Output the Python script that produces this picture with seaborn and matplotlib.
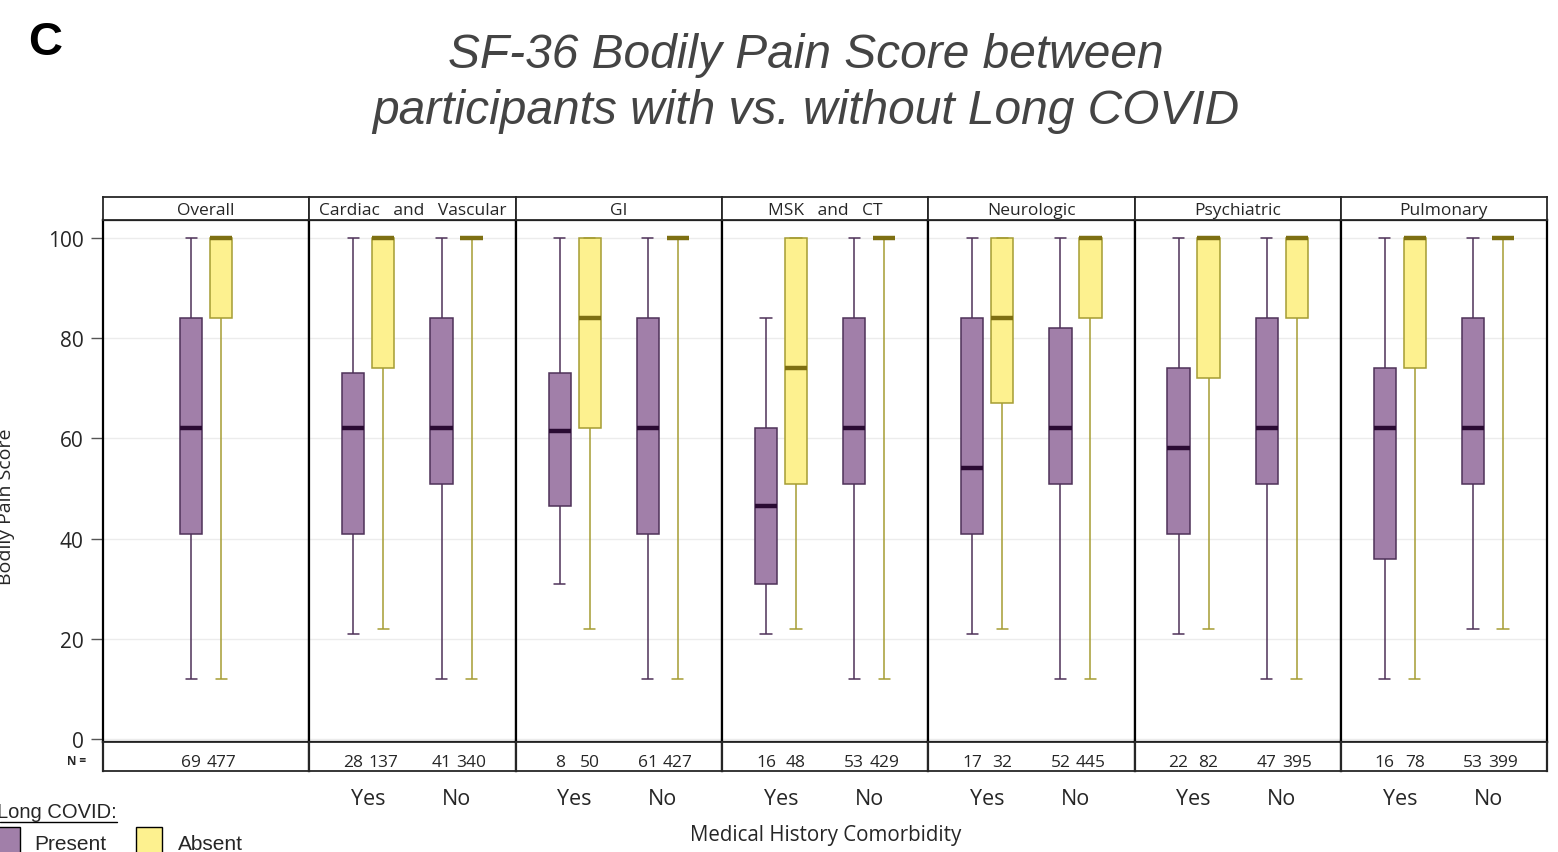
import numpy as np
import pandas as pd
import matplotlib
matplotlib.use("Agg")
import matplotlib.pyplot as plt
from matplotlib.lines import Line2D
from matplotlib.patches import Rectangle
import matplotlib.colors as mcolors
import seaborn as sns

sns.set_style("white")
plt.rcParams["font.family"] = ["Open Sans", "DejaVu Sans"]

# ---------------- data (five-number summaries) ----------------
panels = ["Overall", "Cardiac   and   Vascular", "GI", "MSK   and   CT",
          "Neurologic", "Psychiatric", "Pulmonary"]
comorb_levels = ["Yes", "No"]
lc_levels = ["Present", "Absent"]

# [min, q1, median, q3, max] per panel -> per comorbidity level
present_stats = {
    "Overall": {"": [12, 41, 62, 84, 100]},
    "Cardiac   and   Vascular": {"Yes": [21, 41, 62, 73, 100], "No": [12, 51, 62, 84, 100]},
    "GI": {"Yes": [31, 46.5, 61.5, 73, 100], "No": [12, 41, 62, 84, 100]},
    "MSK   and   CT": {"Yes": [21, 31, 46.5, 62, 84], "No": [12, 51, 62, 84, 100]},
    "Neurologic": {"Yes": [21, 41, 54, 84, 100], "No": [12, 51, 62, 82, 100]},
    "Psychiatric": {"Yes": [21, 41, 58, 74, 100], "No": [12, 51, 62, 84, 100]},
    "Pulmonary": {"Yes": [12, 36, 62, 74, 100], "No": [22, 51, 62, 84, 100]},
}
absent_stats = {
    "Overall": {"": [12, 84, 100, 100, 100]},
    "Cardiac   and   Vascular": {"Yes": [22, 74, 100, 100, 100], "No": [12, 100, 100, 100, 100]},
    "GI": {"Yes": [22, 62, 84, 100, 100], "No": [12, 100, 100, 100, 100]},
    "MSK   and   CT": {"Yes": [22, 51, 74, 100, 100], "No": [12, 100, 100, 100, 100]},
    "Neurologic": {"Yes": [22, 67, 84, 100, 100], "No": [12, 84, 100, 100, 100]},
    "Psychiatric": {"Yes": [22, 72, 100, 100, 100], "No": [12, 84, 100, 100, 100]},
    "Pulmonary": {"Yes": [12, 74, 100, 100, 100], "No": [22, 100, 100, 100, 100]},
}
n_present = {
    "Overall": {"": 69},
    "Cardiac   and   Vascular": {"Yes": 28, "No": 41},
    "GI": {"Yes": 8, "No": 61},
    "MSK   and   CT": {"Yes": 16, "No": 53},
    "Neurologic": {"Yes": 17, "No": 52},
    "Psychiatric": {"Yes": 22, "No": 47},
    "Pulmonary": {"Yes": 16, "No": 53},
}
n_absent = {
    "Overall": {"": 477},
    "Cardiac   and   Vascular": {"Yes": 137, "No": 340},
    "GI": {"Yes": 50, "No": 427},
    "MSK   and   CT": {"Yes": 48, "No": 429},
    "Neurologic": {"Yes": 32, "No": 445},
    "Psychiatric": {"Yes": 82, "No": 395},
    "Pulmonary": {"Yes": 78, "No": 399},
}
y_ticks = [0, 20, 40, 60, 80, 100]

rows = []
for p in panels:
    for lc, src in (("Present", present_stats), ("Absent", absent_stats)):
        for cm, vals in src[p].items():
            for v in vals:
                rows.append({"panel": p, "comorb": cm, "lc": lc, "score": v})
df = pd.DataFrame(rows)

# ---------------- styling ----------------
fills = {"Present": "#a17fa9", "Absent": "#fdf18f"}
edges = {"Present": "#4e3159", "Absent": "#a59d33"}
meds = {"Present": "#2a0b33", "Absent": "#7d6f12"}

W, H = 1558, 853
fig = plt.figure(figsize=(W / 100, H / 100), dpi=100)

def fx(x):
    return x / W

def fy(y):
    return 1 - y / H

left0, pw = 103, 206.3
top_plot, bot_plot = 221, 743
ylim = (-0.6, 103.6)
BOX_W, GAP = 0.68, 0.26
MED_LW = 3.2

for i, p in enumerate(panels):
    L = left0 + i * pw
    ax = fig.add_axes([fx(L), fy(bot_plot), fx(pw), (bot_plot - top_plot) / H])
    sub = df[df["panel"] == p]
    order = [""] if p == "Overall" else comorb_levels
    xlim = (-1.17, 1.17) if p == "Overall" else (-0.67, 1.67)
    sns.boxplot(data=sub, x="comorb", y="score", hue="lc",
                order=order, hue_order=lc_levels, palette=fills, saturation=1,
                whis=(0, 100), width=BOX_W, gap=GAP, linewidth=1.1,
                linecolor="black", legend=False, ax=ax,
                medianprops={"linewidth": MED_LW}, showfliers=False)
    # colour the outlines, whiskers and medians per Long COVID group
    fill_rgb = {k: mcolors.to_rgb(v) for k, v in fills.items()}
    for patch in ax.patches:
        fc = patch.get_facecolor()[:3]
        grp = min(fill_rgb, key=lambda k: sum((a - b) ** 2 for a, b in zip(fc, fill_rgb[k])))
        patch.set_edgecolor(edges[grp])
    for ln in ax.lines:
        xd = np.asarray(ln.get_xdata(), dtype=float)
        if xd.size == 0:
            continue
        xm = xd.mean()
        grp = "Present" if xm - np.round(xm) < 0 else "Absent"
        if ln.get_linewidth() >= MED_LW - 0.1:
            ln.set_color(meds[grp])
        else:
            ln.set_color(edges[grp])
    ax.set_xlim(*xlim)
    ax.set_ylim(*ylim)
    ax.set_xlabel("")
    ax.set_ylabel("")
    ax.set_xticks([])
    ax.set_yticks(y_ticks)
    ax.yaxis.grid(True, color="#ececec", linewidth=1)
    ax.set_axisbelow(True)
    for s in ax.spines.values():
        s.set_color("black")
        s.set_linewidth(1.6)
    if i == 0:
        ax.tick_params(axis="y", length=9, width=1, color="#555555", left=True,
                       labelsize=15, pad=5)
        ax.set_yticklabels([str(t) for t in y_ticks])
    else:
        ax.tick_params(axis="y", left=False, labelleft=False)

    # header strip
    hx = fig.add_axes([fx(L), fy(top_plot), fx(pw), (top_plot - 198) / H])
    hx.set_xticks([]); hx.set_yticks([])
    for s in hx.spines.values():
        s.set_linewidth(1.3)
    hx.text(0.5, 0.45, p, ha="center", va="center", fontsize=12.5,
            transform=hx.transAxes)

    # N row
    nx = fig.add_axes([fx(L), fy(772), fx(pw), (772 - bot_plot) / H])
    nx.set_xlim(*xlim); nx.set_ylim(0, 1)
    nx.set_yticks([])
    for s in nx.spines.values():
        s.set_linewidth(1.3)
    nx.spines["left"].set_linewidth(1.6)
    nx.spines["right"].set_linewidth(1.6)
    off = BOX_W / 4
    for j, cm in enumerate(order):
        nx.text(j - off, 0.32, str(n_present[p][cm]), ha="center", va="center",
                fontsize=12.5)
        nx.text(j + off, 0.32, str(n_absent[p][cm]), ha="center", va="center",
                fontsize=12.5)
    if p == "Overall":
        nx.set_xticks([])
    else:
        nx.set_xticks(range(len(order)))
        nx.set_xticklabels(order, fontsize=15.5)
        nx.tick_params(axis="x", length=0, pad=12)

# N = label
fig.text(fx(86), fy(762), "N =", ha="right", va="center", fontsize=8.5,
         fontweight="bold")

# axis labels
fig.text(fx(826), fy(836), "Medical History Comorbidity", ha="center",
         va="center", fontsize=14.8)
fig.text(fx(6), fy(507), "Bodily Pain Score", ha="center", va="center",
         rotation=90, fontsize=14)

# title
fig.text(fx(806), fy(55), "SF-36 Bodily Pain Score between", ha="center",
         va="center", fontsize=34.5, style="italic", color="#444444",
         family="Liberation Sans")
fig.text(fx(806), fy(112), "participants with vs. without Long COVID",
         ha="center", va="center", fontsize=34.5, style="italic",
         color="#444444", family="Liberation Sans")
fig.text(fx(45), fy(43), "C", ha="center", va="center", fontsize=34,
         fontweight="bold", family="Liberation Sans", color="black")

# legend
fig.text(fx(-3), fy(813), "Long COVID:", ha="left", va="center", fontsize=14.5,
         family="Liberation Sans")
fig.add_artist(Line2D([fx(0), fx(117)], [fy(823), fy(823)], color="black",
                      linewidth=1, transform=fig.transFigure))
fig.add_artist(Rectangle((fx(-5), fy(856)), fx(25), 28 / H, facecolor=fills["Present"],
                         edgecolor="black", linewidth=1, transform=fig.transFigure))
fig.text(fx(34), fy(845), "Present", ha="left", va="center", fontsize=15,
         family="Liberation Sans")
fig.add_artist(Rectangle((fx(136), fy(856)), fx(26), 28 / H, facecolor=fills["Absent"],
                         edgecolor="black", linewidth=1, transform=fig.transFigure))
fig.text(fx(178), fy(845), "Absent", ha="left", va="center", fontsize=15,
         family="Liberation Sans")

fig.savefig("out.png", dpi=100)
